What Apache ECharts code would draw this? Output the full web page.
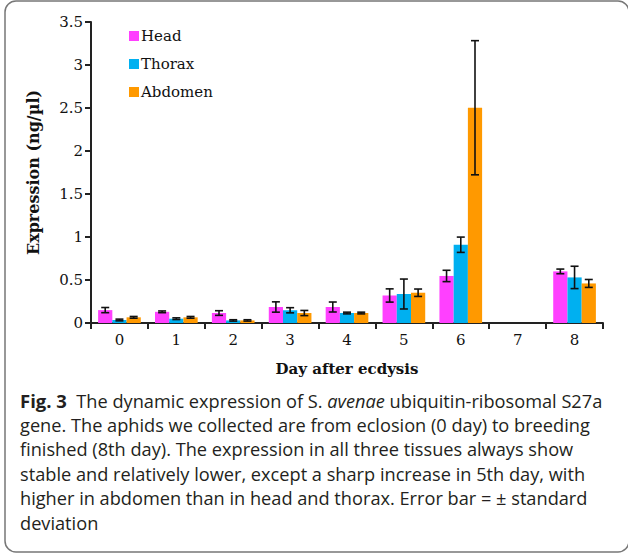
<!DOCTYPE html>
<html><head><meta charset="utf-8">
<script src="https://cdn.jsdelivr.net/npm/echarts@6/dist/echarts.min.js"></script>
<style>html,body{margin:0;padding:0;background:#fff}#c{width:628px;height:555px}</style>
</head><body><div id="c"></div>
<script>
const days = ['0','1','2','3','4','5','6','7','8'];
const head = [0.15,0.13,0.116,0.186,0.186,0.32,0.547,0,0.60];
const headErr = [0.03,0.01,0.027,0.06,0.058,0.077,0.066,0,0.027];
const thorax = [0.035,0.05,0.03,0.148,0.116,0.337,0.91,0,0.53];
const thoraxErr = [0.01,0.01,0.008,0.03,0.01,0.174,0.089,0,0.13];
const abdomen = [0.066,0.066,0.03,0.116,0.116,0.352,2.503,0,0.46];
const abdomenErr = [0.01,0.01,0.008,0.03,0.01,0.043,0.78,0,0.046];
const seriesNames = ['Head','Thorax','Abdomen'];
const colors = ['#FF40FF','#00B0F0','#FF9900'];
const yTicks = [0,3.5,0.5]; // min, max, interval
const captionLines = [
  '{b|Fig. 3}  The dynamic expression of S. {i|avenae} ubiquitin-ribosomal S27a',
  'gene. The aphids we collected are from eclosion (0 day) to breeding',
  'finished (8th day). The expression in all three tissues always show',
  'stable and relatively lower, except a sharp increase in 5th day, with',
  'higher in abdomen than in head and thorax. Error bar = ± standard',
  'deviation'
];

const serif = 'DejaVu Serif';
const sans = 'Open Sans';
const vals = [head, thorax, abdomen];
const errs = [headErr, thoraxErr, abdomenErr];
const CAT_GAP = 0.25;

function errSeries(k){
  return {
    type:'custom', name: seriesNames[k]+' SD', z: 10,
    data: days.map((d,i)=>[i, vals[k][i], errs[k][i]]),
    renderItem: function(params, api){
      const x = api.value(0), v = api.value(1), e = api.value(2);
      if(!v) return;
      const catW = api.size([1,0])[0];
      const bw = catW*(1-CAT_GAP)/3;
      const cx = api.coord([x, v])[0] + (k-1)*bw;
      const yt = api.coord([x, v+e])[1];
      const yb = api.coord([x, v-e])[1];
      const cap = 4;
      const st = {stroke:'#111', lineWidth:1.6};
      return {type:'group', children:[
        {type:'line', shape:{x1:cx,y1:yt,x2:cx,y2:yb}, style:st},
        {type:'line', shape:{x1:cx-cap,y1:yt,x2:cx+cap,y2:yt}, style:st},
        {type:'line', shape:{x1:cx-cap,y1:yb,x2:cx+cap,y2:yb}, style:st}
      ]};
    }
  };
}

const chart = echarts.init(document.getElementById('c'), null, {renderer:'svg'});
const graphics = [
  {type:'rect', shape:{x:5,y:1,width:624,height:551,r:11}, style:{fill:'none',stroke:'#777',lineWidth:1.5}, z:0}
];
captionLines.forEach((t,i)=>{
  graphics.push({type:'text', left:20, top:391+i*24.6, style:{
    text:t, fontFamily:sans, fontSize:18.2, fill:'#231f20',
    rich:{
      b:{fontFamily:sans, fontSize:18.5, fontWeight:'bold', fill:'#231f20'},
      i:{fontFamily:sans, fontSize:18.2, fontStyle:'italic', fill:'#231f20'}
    }
  }});
});

chart.setOption({
  animation:false,
  backgroundColor:'#fff',
  textStyle:{fontFamily:serif},
  grid:{left:91, right:25, top:22, bottom:232, containLabel:false},
  legend:{
    data:seriesNames, orient:'vertical', left:124, top:22, itemWidth:10, itemHeight:10,
    itemGap:10, icon:'rect',
    textStyle:{fontFamily:serif, fontSize:15, color:'#111', padding:[0,0,0,-3], lineHeight:18}
  },
  xAxis:{
    type:'category', data:days, boundaryGap:true,
    name:'Day after ecdysis', nameLocation:'middle', nameGap:38,
    nameTextStyle:{fontFamily:serif, fontSize:15, fontWeight:'bold', color:'#111'},
    axisLine:{lineStyle:{color:'#222', width:2}},
    axisTick:{show:true, alignWithLabel:false, length:6, lineStyle:{color:'#222', width:2}},
    axisLabel:{fontFamily:serif, fontSize:15, color:'#111', margin:9}
  },
  yAxis:{
    type:'value', min:yTicks[0], max:yTicks[1], interval:yTicks[2],
    name:'Expression (ng/µl)', nameLocation:'middle', nameGap:50, nameRotate:90,
    nameTextStyle:{fontFamily:serif, fontSize:16, fontWeight:'bold', color:'#111'},
    axisLine:{show:true, lineStyle:{color:'#222', width:2}},
    axisTick:{show:true, length:6, lineStyle:{color:'#222', width:2}},
    axisLabel:{fontFamily:serif, fontSize:15, color:'#111', margin:8},
    splitLine:{show:false}
  },
  series:[
    ...seriesNames.map((n,k)=>({
      type:'bar', name:n, data:vals[k], barGap:'0%', barCategoryGap:(CAT_GAP*100)+'%',
      itemStyle:{color:colors[k]}
    })),
    errSeries(0), errSeries(1), errSeries(2)
  ],
  graphic: graphics
});
</script></body></html>
